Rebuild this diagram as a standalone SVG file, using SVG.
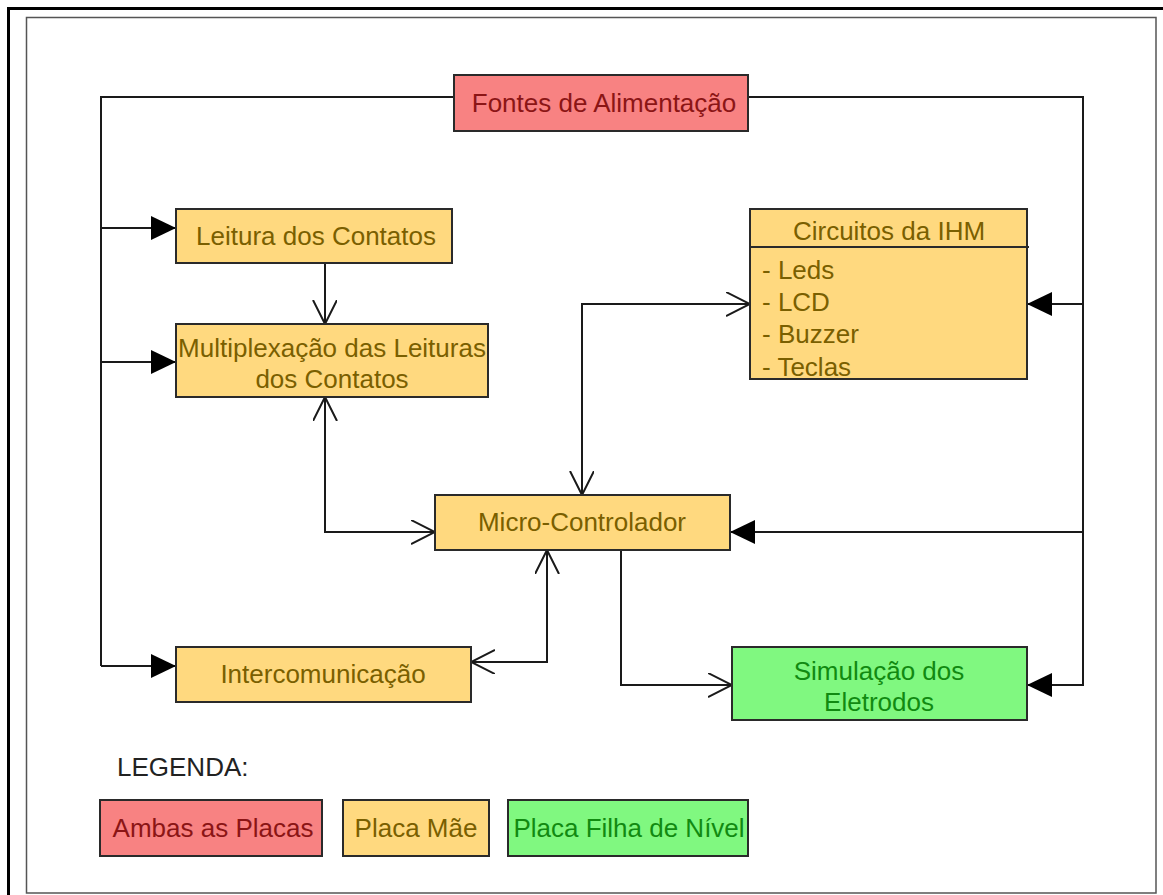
<svg xmlns="http://www.w3.org/2000/svg" width="1163" height="895" viewBox="0 0 1163 895">
  <style>
    .box { stroke: #2a2a2a; stroke-width: 2; }
    .red { fill: #f88282; }
    .yel { fill: #ffd97f; }
    .grn { fill: #80f880; }
    .t { font-family: "Liberation Sans", Arial, sans-serif; font-size: 26px; }
    .tr { fill: #8b1515; }
    .ty { fill: #7a5f00; }
    .tg { fill: #118a11; }
    .wire { fill: none; stroke: #1a1a1a; stroke-width: 2; }
  </style>
  <defs>
    <marker id="solid" markerUnits="userSpaceOnUse" markerWidth="26" markerHeight="26" refX="25" refY="12" orient="auto">
      <path d="M0,0 L25,12 L0,24 Z" fill="#000"/>
    </marker>
    <marker id="open" markerUnits="userSpaceOnUse" markerWidth="26" markerHeight="26" refX="24" refY="12" orient="auto">
      <path d="M0,0 L24,12 L0,24" fill="none" stroke="#1a1a1a" stroke-width="2"/>
    </marker>
    <marker id="openStart" markerUnits="userSpaceOnUse" markerWidth="26" markerHeight="26" refX="24" refY="12" orient="auto-start-reverse">
      <path d="M0,0 L24,12 L0,24" fill="none" stroke="#1a1a1a" stroke-width="2"/>
    </marker>
  </defs>

  <rect width="1163" height="895" fill="#fff"/>
  <!-- frames -->
  <rect x="8.5" y="8.5" width="1170" height="900" fill="none" stroke="#000" stroke-width="3"/>
  <rect x="26.5" y="17.5" width="1129.5" height="875.5" fill="none" stroke="#555" stroke-width="1.5"/>

  <!-- connectors -->
  <g id="connectors">
    <path class="wire" d="M454,97 H101 V666"/>
    <path class="wire" d="M101,228 H176" marker-end="url(#solid)"/>
    <path class="wire" d="M101,362 H176" marker-end="url(#solid)"/>
    <path class="wire" d="M101,666 H176" marker-end="url(#solid)"/>
    <path class="wire" d="M748,97 H1083 V685 H1027" marker-end="url(#solid)"/>
    <path class="wire" d="M1083,304 H1027" marker-end="url(#solid)"/>
    <path class="wire" d="M1083,532 H730" marker-end="url(#solid)"/>
    <path class="wire" d="M325,263 V324" marker-end="url(#open)"/>
    <path class="wire" d="M325,397 V532 H435" marker-start="url(#openStart)" marker-end="url(#open)"/>
    <path class="wire" d="M582,495 V304 H750" marker-start="url(#openStart)" marker-end="url(#open)"/>
    <path class="wire" d="M547,550 V662 H471" marker-start="url(#openStart)" marker-end="url(#open)"/>
    <path class="wire" d="M621,550 V685 H732" marker-end="url(#open)"/>
  </g>

  <g id="fontes">
    <rect class="box red" x="454" y="75" width="294" height="56"/>
    <text class="t tr" x="604" y="112" text-anchor="middle">Fontes de Alimentação</text>
  </g>
  <g id="leitura">
    <rect class="box yel" x="176" y="209" width="276" height="54"/>
    <text class="t ty" x="316" y="245" text-anchor="middle">Leitura dos Contatos</text>
  </g>
  <g id="multiplexacao">
    <rect class="box yel" x="176" y="324" width="312" height="73"/>
    <text class="t ty" x="332" y="357" text-anchor="middle">Multiplexação das Leituras</text>
    <text class="t ty" x="332" y="388" text-anchor="middle">dos Contatos</text>
  </g>
  <g id="ihm">
    <rect class="box yel" x="750" y="209" width="277" height="170"/>
    <line x1="750" y1="247" x2="1029" y2="247" stroke="#2a2a2a" stroke-width="2"/>
    <text class="t ty" x="889" y="240" text-anchor="middle">Circuitos da IHM</text>
    <text class="t ty" x="762" y="279">- Leds</text>
    <text class="t ty" x="762" y="311">- LCD</text>
    <text class="t ty" x="762" y="343">- Buzzer</text>
    <text class="t ty" x="762" y="376">- Teclas</text>
  </g>
  <g id="micro">
    <rect class="box yel" x="435" y="495" width="295" height="55"/>
    <text class="t ty" x="582" y="531" text-anchor="middle">Micro-Controlador</text>
  </g>
  <g id="intercomunicacao">
    <rect class="box yel" x="176" y="647" width="295" height="55"/>
    <text class="t ty" x="323" y="683" text-anchor="middle">Intercomunicação</text>
  </g>
  <g id="simulacao">
    <rect class="box grn" x="732" y="647" width="295" height="73"/>
    <text class="t tg" x="879" y="680" text-anchor="middle">Simulação dos</text>
    <text class="t tg" x="879" y="711" text-anchor="middle">Eletrodos</text>
  </g>

  <!-- legend -->
  <g id="legenda">
    <text x="117" y="776" font-family="Liberation Sans, Arial, sans-serif" font-size="26" fill="#222">LEGENDA:</text>
    <rect class="box red" x="100" y="800" width="222" height="56"/>
    <text class="t tr" x="213" y="837" text-anchor="middle">Ambas as Placas</text>
    <rect class="box yel" x="343" y="800" width="146" height="56"/>
    <text class="t ty" x="416" y="837" text-anchor="middle">Placa Mãe</text>
    <rect class="box grn" x="508" y="800" width="240" height="56"/>
    <text class="t tg" x="629" y="837" text-anchor="middle">Placa Filha de Nível</text>
  </g>
</svg>
